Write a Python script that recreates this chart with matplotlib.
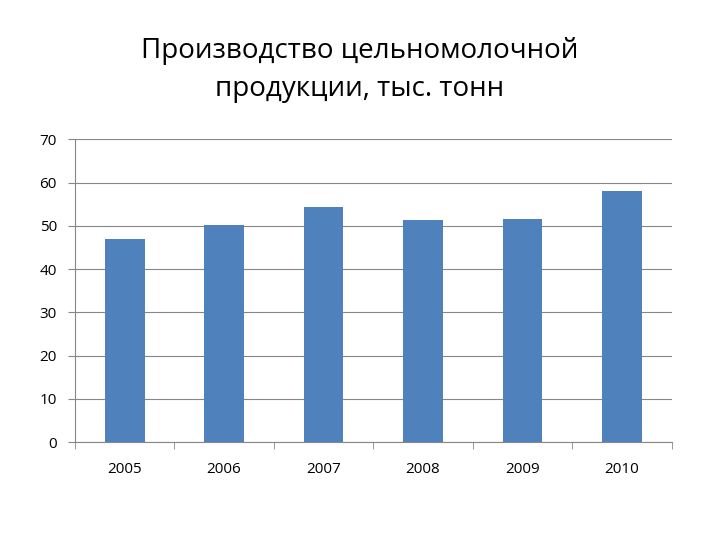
import matplotlib
matplotlib.use("Agg")
import matplotlib.pyplot as plt
import numpy as np

years = ["2005", "2006", "2007", "2008", "2009", "2010"]
values = [47, 50.1, 54.3, 51.3, 51.7, 58.0]

plt.rcParams['font.family'] = ['Open Sans', 'DejaVu Sans']
fig = plt.figure(figsize=(7.2, 5.4), dpi=100)
ax = fig.add_axes([0.104, 0.181, 0.829, 0.561])
x = np.arange(len(years))
ax.bar(x, values, width=0.4, color='#4F81BD', zorder=3)
ax.set_xlim(-0.5, len(years) - 0.5)
ax.set_ylim(0, 70)
ax.set_yticks(range(0, 71, 10))
ax.yaxis.grid(True, color='#868686', linewidth=0.8, zorder=0)
ax.set_xticks(x)
ax.set_xticklabels(years)
ax.set_xticks(np.arange(-0.5, len(years)), minor=True)
ax.tick_params(axis='x', which='major', length=0, pad=14, labelsize=11)
ax.tick_params(axis='x', which='minor', length=5, color='#868686')
ax.tick_params(axis='y', length=5, color='#868686', labelsize=11, pad=8)
for s in ['top', 'right']:
    ax.spines[s].set_visible(False)
for s in ['left', 'bottom']:
    ax.spines[s].set_color('#868686')
fig.text(0.5, 0.87, "Производство цельномолочной\nпродукции, тыс. тонн",
         ha='center', va='center', fontsize=20, linespacing=1.5)
fig.savefig("out.png", dpi=100)
